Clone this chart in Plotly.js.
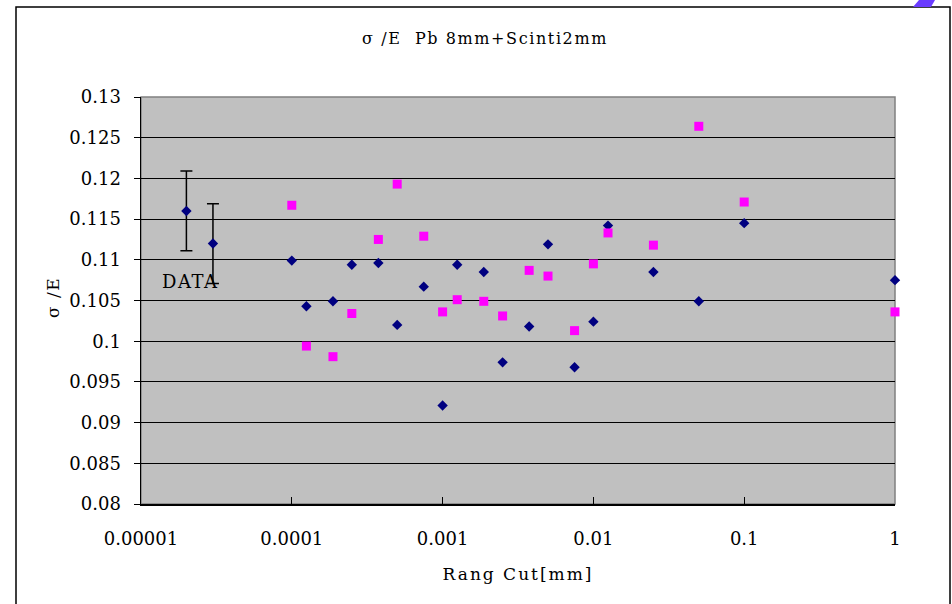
<!DOCTYPE html>
<html>
<head>
<meta charset="utf-8">
<script src="https://cdn.plot.ly/plotly-3.0.1.min.js"></script>
<style>
html,body{margin:0;padding:0;background:#fff;}
#chart{width:952px;height:604px;}
#chart .gtitle{letter-spacing:1.6px;}
#chart .xtitle{letter-spacing:2px;}
#chart .annotation-text{letter-spacing:1.5px;}
</style>
</head>
<body>
<div id="chart"></div>
<script>
// Range cut values [mm]
const rangeCut = [0.0001, 0.000125, 0.0001875, 0.00025, 0.000375, 0.0005, 0.00075, 0.001, 0.00125, 0.001875, 0.0025, 0.00375, 0.005, 0.0075, 0.01, 0.0125, 0.025, 0.05, 0.1, 1];
// Series 1 (navy diamonds)
const sigmaA = [0.1099, 0.1043, 0.1049, 0.1094, 0.1096, 0.1020, 0.1067, 0.0921, 0.1094, 0.1085, 0.0974, 0.1018, 0.1119, 0.0968, 0.1024, 0.1142, 0.1085, 0.1049, 0.1145, 0.1075];
// Series 2 (magenta squares)
const sigmaB = [0.1167, 0.0994, 0.0981, 0.1034, 0.1125, 0.1193, 0.1129, 0.1036, 0.1051, 0.1049, 0.1031, 0.1087, 0.1080, 0.1013, 0.1095, 0.1133, 0.1118, 0.1264, 0.1171, 0.1036];
// Measured DATA points with error bars
const dataX = [0.00002, 0.00003];
const dataY = [0.1160, 0.1120];
const dataErr = [0.0049, 0.0049];
// Axis ticks
const xTickVals = [0.00001, 0.0001, 0.001, 0.01, 0.1, 1];
const xTickText = ["0.00001", "0.0001", "0.001", "0.01", "0.1", "1"];

const FONT = "DejaVu Serif";
const L = 141, R = 895, T = 97, B = 504;
const px = x => (x - L) / (R - L);
const py = y => (B - y) / (B - T);

const traces = [
  {
    x: rangeCut, y: sigmaA, type: 'scatter', mode: 'markers', name: 'A',
    marker: {symbol: 'diamond', size: 8, color: '#000080'},
    cliponaxis: false
  },
  {
    x: rangeCut, y: sigmaB, type: 'scatter', mode: 'markers', name: 'B',
    marker: {symbol: 'square', size: 9, color: '#ff00ff'},
    cliponaxis: false
  },
  {
    x: dataX, y: dataY, type: 'scatter', mode: 'markers', name: 'DATA',
    marker: {symbol: 'diamond', size: 8, color: '#000080'},
    error_y: {type: 'data', array: dataErr, visible: true, color: '#000000', thickness: 1.5, width: 6},
    cliponaxis: false
  }
];

const layout = {
  width: 952, height: 604,
  margin: {l: L, r: 952 - R, t: T, b: 604 - B, pad: 0},
  paper_bgcolor: '#ffffff',
  plot_bgcolor: '#c0c0c0',
  showlegend: false,
  font: {family: FONT, size: 17, color: '#000000'},
  title: {
    text: 'σ /E  Pb 8mm+Scinti2mm',
    font: {family: FONT, size: 16, color: '#000000'},
    x: 485 / 952, xref: 'container', xanchor: 'center', y: 1 - 38 / 604, yanchor: 'middle'
  },
  xaxis: {
    type: 'log', range: [-5, 0],
    tickvals: xTickVals, ticktext: xTickText,
    ticks: 'inside', ticklen: 7, tickcolor: '#000', tickwidth: 1,
    showgrid: false, zeroline: false,
    showline: true, linecolor: '#000', linewidth: 1.5, mirror: false,
    tickfont: {family: FONT, size: 18},
    ticklabelstandoff: 18,
    title: {text: 'Rang Cut[mm]', font: {family: FONT, size: 17}, standoff: 20}
  },
  yaxis: {
    range: [0.08, 0.13], dtick: 0.005, tick0: 0.08,
    ticks: 'outside', ticklen: 6, tickcolor: '#000', tickwidth: 1,
    showgrid: true, gridcolor: '#000000', gridwidth: 1,
    zeroline: false,
    showline: true, linecolor: '#000', linewidth: 1.5,
    tickfont: {family: FONT, size: 18},
    ticklabelstandoff: 9
  },
  annotations: [
    {
      x: Math.log10(0.0000212), y: 0.1073, xref: 'x', yref: 'y',
      text: 'DATA', showarrow: false,
      font: {family: FONT, size: 18, color: '#000'}
    },
    {
      x: px(53), y: py(298), xref: 'paper', yref: 'paper',
      text: 'σ /E', textangle: -90, showarrow: false,
      xanchor: 'center', yanchor: 'middle',
      font: {family: FONT, size: 17, color: '#000'}
    }
  ],
  shapes: [
    // plot area border (top/right gray)
    {type: 'rect', xref: 'paper', yref: 'paper', x0: 0, x1: 1, y0: 0, y1: 1,
     line: {color: '#808080', width: 1.5}, layer: 'below'},
    // outer chart frame
    {type: 'rect', xref: 'paper', yref: 'paper', x0: px(16), x1: px(950), y0: py(612), y1: py(7),
     line: {color: '#000000', width: 1.5}},
    // small purple fragment at top right
    {type: 'path', xref: 'paper', yref: 'paper',
     path: `M ${px(913)} ${py(7)} L ${px(931)} ${py(7)} L ${px(935)} ${py(0)} L ${px(919)} ${py(0)} Z`,
     fillcolor: '#6a3cff', line: {width: 0}}
  ]
};

Plotly.newPlot('chart', traces, layout, {staticPlot: true, displayModeBar: false});
</script>
</body>
</html>
